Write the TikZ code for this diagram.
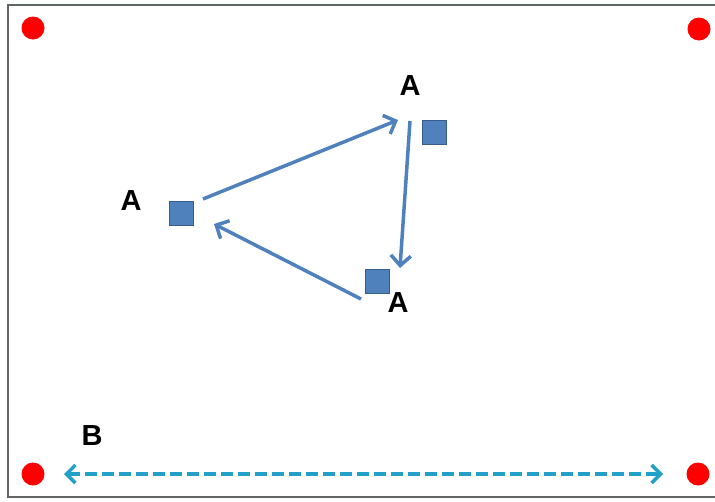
\documentclass[tikz,border=0pt]{standalone}
\usepackage{fontspec}
\setmainfont{Liberation Sans}
\usetikzlibrary{arrows.meta}
\definecolor{blau}{RGB}{79,129,189}
\definecolor{blaurand}{RGB}{56,93,138}
\definecolor{tuerkis}{RGB}{35,160,200}
\definecolor{rahmen}{RGB}{95,100,100}

\begin{document}
\begin{tikzpicture}[%show background rectangle,
        x=1pt, y=-1pt,
        font=\bfseries\fontsize{29}{29}\selectfont,
        quadrat/.style={draw=blaurand, fill=blau, line width=0.8pt,
                        minimum size=24pt, inner sep=0pt},
        ecke/.style={circle, fill=red, minimum size=23pt, inner sep=0pt},
        pfeil/.style={draw=blau, line width=3.5pt,
                      -{Straight Barb[length=10pt,width=20pt]}},
        >={Straight Barb[length=9pt,width=18pt]} % Voreinstellung für Pfeilspitzen
        ]
            \useasboundingbox (0,0) rectangle (715,501);

            % Rahmen
            \draw [rahmen, line width=2pt] (8,5) rectangle (722,497);

            % Ecken
            \node [ecke] (E1) at (33,28)  {};
            \node [ecke] (E2) at (699,29) {};
            \node [ecke] (E3) at (33,474) {};
            \node [ecke] (E4) at (698,474) {};

            % Quadrate, Beschriftung
            \node [quadrat] (Q1) at (181,213) {};
            \node [quadrat] (Q2) at (434,132) {};
            \node [quadrat] (Q3) at (377,281) {};

            \node (A1) at (131,201) {A};
            \node (A2) at (410,86)  {A};
            \node (A3) at (398,303) {A};
            \node (B)  at (92,436)  {B};

            % Pfeile
            \coordinate (p1a) at (203,199);
            \coordinate (p1b) at (398,120);
            \coordinate (p2a) at (410,121);
            \coordinate (p2b) at (400,268);
            \coordinate (p3a) at (361,299);
            \coordinate (p3b) at (214,224);
            \draw [pfeil] (p1a) -- (p1b);
            \draw [pfeil] (p2a) -- (p2b);
            \draw [pfeil] (p3a) -- (p3b);

            \coordinate (b1) at (64,474);
            \coordinate (b2) at (663,474);
            \draw [tuerkis, line width=3.5pt, dash pattern=on 12pt off 5pt, <->]
                    (b1) -- (b2);

        \end{tikzpicture}
\end{document}
